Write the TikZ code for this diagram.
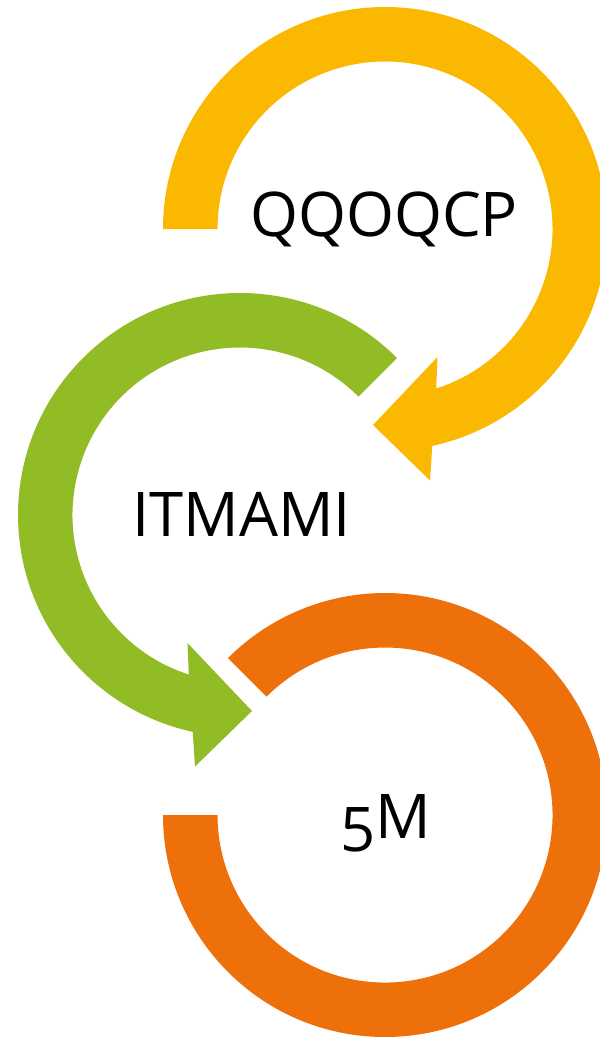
\documentclass[tikz,border=0pt]{standalone}
\usepackage{fontspec}
\setmainfont{Open Sans}
\definecolor{cyellow}{RGB}{250,184,0}
\definecolor{cgreen}{RGB}{145,188,38}
\definecolor{corange}{RGB}{237,112,11}
\begin{document}
\begin{tikzpicture}[x=1pt,y=-1pt,
  lbl/.style={font=\fontsize{61.6}{70}\selectfont, text=black, inner sep=0pt, anchor=base},
  ring/.style={draw=none}]
\useasboundingbox (0,0) rectangle (600,1037);
\clip (0,0) rectangle (600,1037);
% yellow circular arrow
\fill[ring, cyellow] (163,229) arc[start angle=180, end angle=437.7, radius=222]
  -- (430,480.5) -- (373,425) -- (437.5,357) -- (436.2,388.5)
  arc[start angle=432.2, end angle=180, radius=167.5] -- cycle;
% green circular arrow
\fill[ring, cgreen] (397,358) arc[start angle=-45, end angle=-257.7, radius=222]
  -- (195,766.5) -- (252,711) -- (187.5,643) -- (188.8,674.5)
  arc[start angle=-252.2, end angle=-45, radius=167.5] -- cycle;
% orange ring
\fill[ring, corange] (163,815) arc[start angle=180, end angle=-135, radius=222]
  -- (266.6,696.6) arc[start angle=-135, end angle=180, radius=167.5] -- cycle;
\node[lbl] (q) at (384,236) {QQOQCP};
\node[lbl] (i) at (241.5,536.7) {ITMAMI};
\node[lbl] (m) at (385.5,851.7) {5\raisebox{13.4pt}{M}};
\end{tikzpicture}
\end{document}
